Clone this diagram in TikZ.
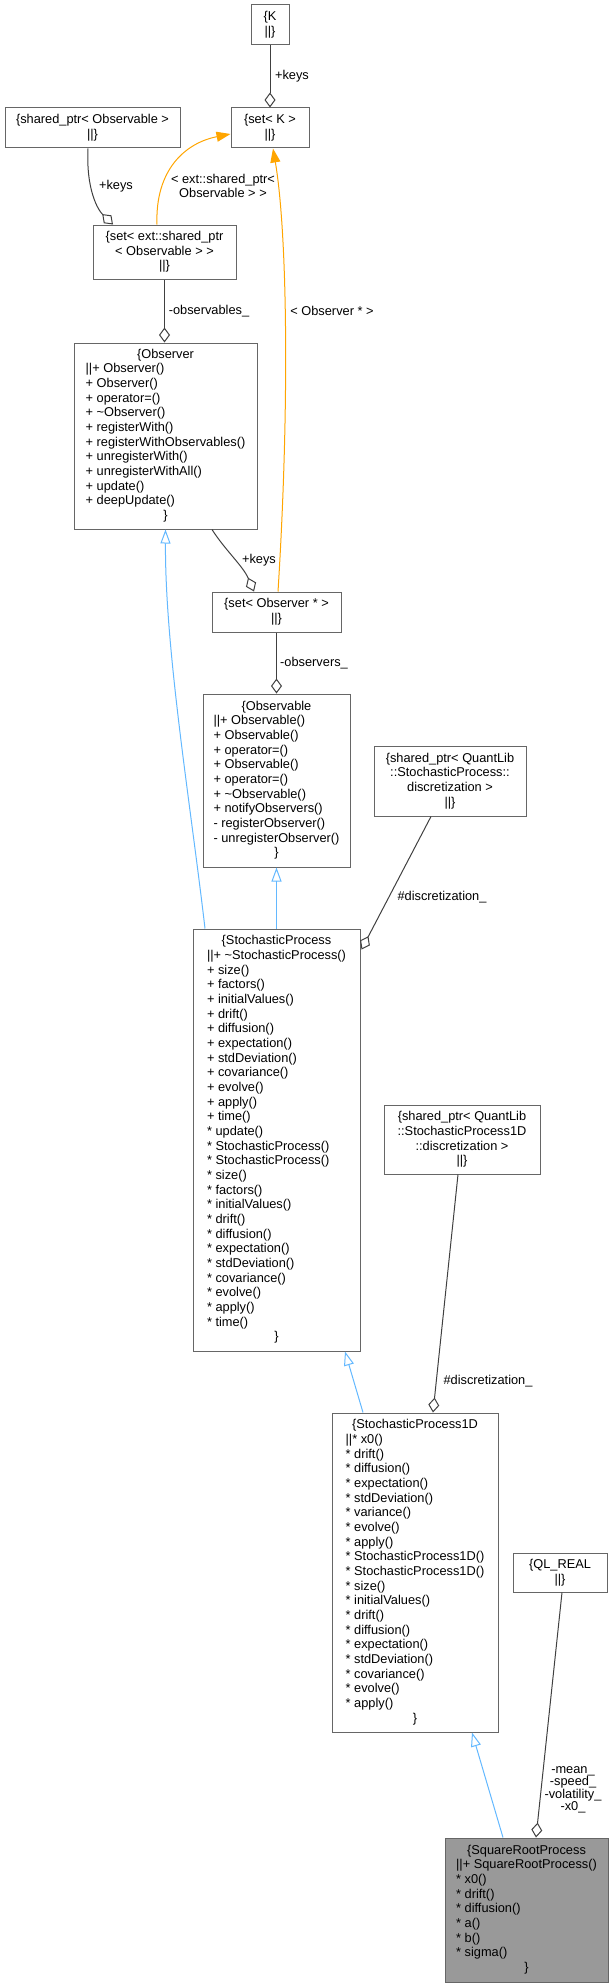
\documentclass[tikz,border=0pt]{standalone}
\usepackage{fontspec}
\setmainfont{Liberation Sans}
\usetikzlibrary{arrows.meta,calc}
\newlength\px
\setlength\px{0.75pt}
\definecolor{edgegray}{HTML}{404040}
\definecolor{boxgray}{HTML}{666666}
\definecolor{inhblue}{HTML}{63B8FF}
\definecolor{tmplorange}{HTML}{FFA500}
\definecolor{hlfill}{HTML}{999999}
\newcommand\clstext[2]{\begin{tabular}{@{}l@{}}\multicolumn{1}{@{}c@{}}{#1}\\#2\\\multicolumn{1}{@{}c@{}}{\}}\end{tabular}}
\newcommand\tld{\textasciitilde{}}
\newcommand\st{{*}}
\begin{document}
\begin{tikzpicture}[x=0.75pt,y=-0.75pt,
  every node/.style={font=\fontsize{9.6}{11}\selectfont},
  box/.style={draw=boxgray, line width=0.75pt, fill=white, inner sep=0pt, align=center},
  agg/.style={draw=edgegray, line width=0.75pt, -{Diamond[open,length=11.25pt,width=8.25pt]}},
  inh/.style={draw=inhblue, line width=0.75pt, -{Triangle[open,length=10.5pt,width=7.5pt]}},
  tmpl/.style={draw=tmplorange, line width=0.75pt, -{Triangle[length=10.5pt,width=7.5pt]}},
  lbl/.style={inner sep=0pt, align=center}]
\useasboundingbox (0,0) rectangle (615,1987);

% boxes
\node[box, minimum width=38\px, minimum height=40\px] (K) at (270,25) {\{K\\||\}};
\node[box, minimum width=78\px, minimum height=40\px] (setK) at (270,128) {\{set< K >\\||\}};
\node[box, minimum width=175\px, minimum height=40\px] (obsptr) at (92.5,128) {\{shared\_ptr< Observable >\\||\}};
\node[box, minimum width=143\px, minimum height=54\px] (setExt) at (164.5,252) {\{set< ext::shared\_ptr\\< Observable > >\\||\}};
\node[box, minimum width=183\px, minimum height=186\px] (Observer) at (165.5,436) {\clstext{\{Observer}{||+ Observer()\\+ Observer()\\+ operator=()\\+ \tld Observer()\\+ registerWith()\\+ registerWithObservables()\\+ unregisterWith()\\+ unregisterWithAll()\\+ update()\\+ deepUpdate()}};
\node[box, minimum width=129\px, minimum height=40\px] (setObs) at (276.5,612) {\{set< Observer * >\\||\}};
\node[box, minimum width=147\px, minimum height=173\px] (Observable) at (276.5,780.5) {\clstext{\{Observable}{||+ Observable()\\+ Observable()\\+ operator=()\\+ Observable()\\+ operator=()\\+ \tld Observable()\\+ notifyObservers()\\- registerObserver()\\- unregisterObserver()}};
\node[box, minimum width=152\px, minimum height=70\px] (sdisc) at (450,781) {\{shared\_ptr< QuantLib\\::StochasticProcess::\\discretization >\\||\}};
\node[box, minimum width=167\px, minimum height=422\px] (SP) at (276.5,1140) {\clstext{\{StochasticProcess}{||+ \tld StochasticProcess()\\+ size()\\+ factors()\\+ initialValues()\\+ drift()\\+ diffusion()\\+ expectation()\\+ stdDeviation()\\+ covariance()\\+ evolve()\\+ apply()\\+ time()\\\st{} update()\\\st{} StochasticProcess()\\\st{} StochasticProcess()\\\st{} size()\\\st{} factors()\\\st{} initialValues()\\\st{} drift()\\\st{} diffusion()\\\st{} expectation()\\\st{} stdDeviation()\\\st{} covariance()\\\st{} evolve()\\\st{} apply()\\\st{} time()}};
\node[box, minimum width=156\px, minimum height=69\px] (s1disc) at (462,1139.5) {\{shared\_ptr< QuantLib\\::StochasticProcess1D\\::discretization >\\||\}};
\node[box, minimum width=166\px, minimum height=319\px] (SP1D) at (415,1572.5) {\clstext{\{StochasticProcess1D}{||\st{} x0()\\\st{} drift()\\\st{} diffusion()\\\st{} expectation()\\\st{} stdDeviation()\\\st{} variance()\\\st{} evolve()\\\st{} apply()\\\st{} StochasticProcess1D()\\\st{} StochasticProcess1D()\\\st{} size()\\\st{} initialValues()\\\st{} drift()\\\st{} diffusion()\\\st{} expectation()\\\st{} stdDeviation()\\\st{} covariance()\\\st{} evolve()\\\st{} apply()}};
\node[box, minimum width=94\px, minimum height=39\px] (qlreal) at (560,1572.5) {\{QL\_REAL\\||\}};
\node[box, fill=hlfill, minimum width=163\px, minimum height=144\px] (SRP) at (526.5,1910) {\clstext{\{SquareRootProcess}{||+ SquareRootProcess()\\\st{} x0()\\\st{} drift()\\\st{} diffusion()\\\st{} a()\\\st{} b()\\\st{} sigma()}};

% edges
\draw[agg] (K.south) -- (setK.north);
\node[lbl] (l1) at (292,76) {+keys};

\draw[agg] ($(obsptr.south)+(-4.5,0)$) .. controls (86,190) and (98,210) .. ($(setExt.north)+(-51.5,0)$);
\node[lbl] (l2) at (116,186) {+keys};

\draw[tmpl] ($(setExt.north)+(-7.5,0)$) .. controls (155,170) and (185,143) .. ($(setK.west)+(0,6)$);
\node[lbl, font=\fontsize{9.6}{10.3}\selectfont] (l3) at (223,186) {< ext::shared\_ptr<\\Observable > >};

\draw[agg] (setExt.south) -- (setExt.south |- Observer.north);
\node[lbl] (l4) at (209,311) {-observables\_};

\draw[tmpl] ($(setObs.north)+(1.5,0)$) .. controls (290,400) and (287,230) .. ($(setK.south)+(3,0)$);
\node[lbl] (l5) at (332,311) {< Observer * >};

\draw[agg] ($(Observer.south)+(46.5,0)$) .. controls (225,550) and (243,566) .. ($(setObs.north)+(-22.5,0)$);
\node[lbl] (l6) at (259,560) {+keys};

\draw[agg] (setObs.south) -- (Observable.north);
\node[lbl] (l7) at (314,663) {-observers\_};

\draw[inh] (SP.north) -- (Observable.south);
\draw[inh] ($(SP.north)+(-71.5,0)$) .. controls (190,800) and (165,650) .. (Observer.south);

\draw[agg] ($(sdisc.south)+(-19,0)$) -- ($(SP.north east)+(1,21)$);
\node[lbl] (l8) at (442,897) {\#discretization\_};

\draw[inh] ($(SP1D.north)+(-52,0)$) -- ($(SP.south)+(68.5,0)$);

\draw[agg] ($(s1disc.south)+(-4,0)$) -- ($(SP1D.north)+(18,0)$);
\node[lbl] (l9) at (488,1381) {\#discretization\_};

\draw[inh] ($(SRP.north)+(-23.5,0)$) -- ($(SP1D.south)+(57,0)$);

\draw[agg] ($(qlreal.south)+(2,0)$) -- ($(SRP.north)+(9.5,0)$);
\node[lbl, font=\fontsize{9.6}{9.4}\selectfont] (l10) at (573,1790) {-mean\_\\-speed\_\\-volatility\_\\-x0\_};
\end{tikzpicture}
\end{document}
